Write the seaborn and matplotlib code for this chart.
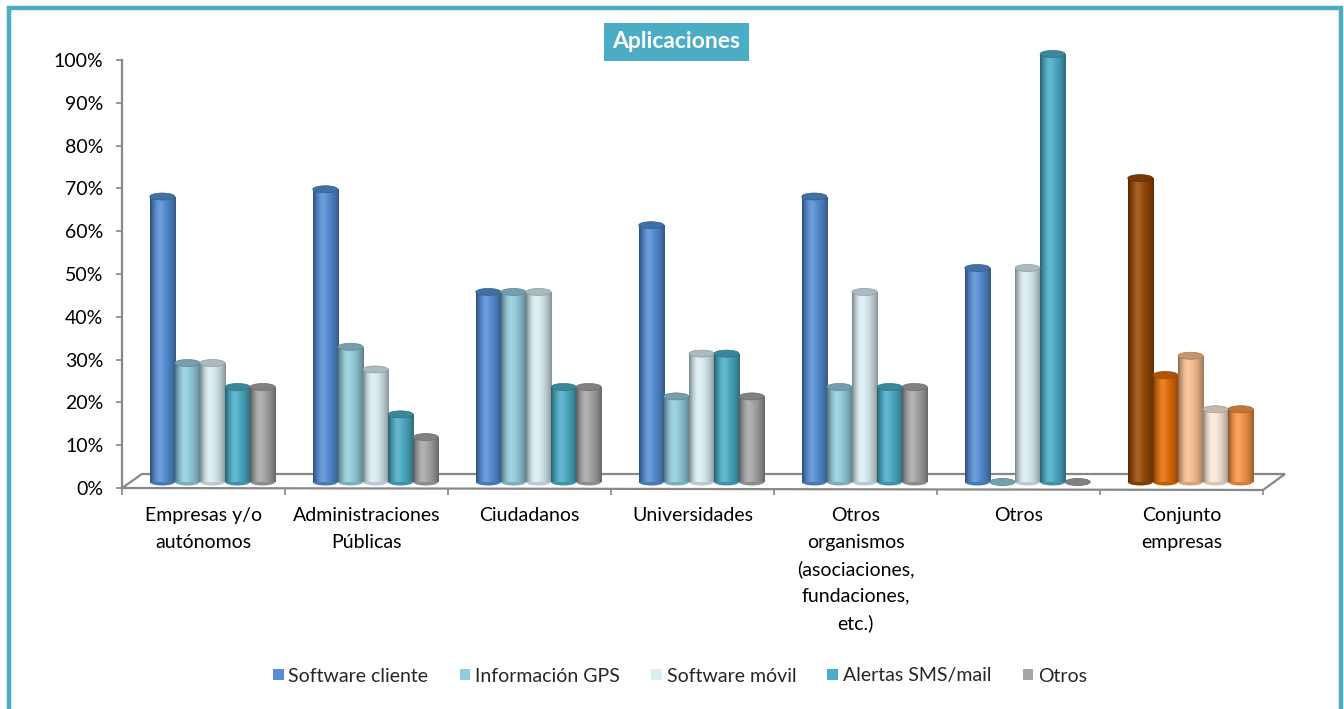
import numpy as np
import pandas as pd
import matplotlib
matplotlib.use("Agg")
import matplotlib.pyplot as plt
import matplotlib.transforms as mtransforms
from matplotlib.patches import Ellipse, Polygon, Patch
from matplotlib.lines import Line2D
from matplotlib.colors import to_rgb
import seaborn as sns

# ---- data ----
categories = ["Empresas y/o\nautónomos", "Administraciones\nPúblicas", "Ciudadanos",
              "Universidades",
              "Otros\norganismos\n(asociaciones,\nfundaciones,\netc.)",
              "Otros", "Conjunto\nempresas"]
series = ["Software cliente", "Información GPS", "Software móvil",
          "Alertas SMS/mail", "Otros"]
software_cliente = [0.667, 0.684, 0.444, 0.60, 0.667, 0.50, 0.71]
informacion_gps = [0.278, 0.316, 0.444, 0.20, 0.222, 0.00, 0.25]
software_movil = [0.278, 0.263, 0.444, 0.30, 0.444, 0.50, 0.295]
alertas_sms = [0.222, 0.158, 0.222, 0.30, 0.222, 1.00, 0.17]
otros = [0.222, 0.105, 0.222, 0.20, 0.222, 0.00, 0.17]
y_ticks = [0, 0.1, 0.2, 0.3, 0.4, 0.5, 0.6, 0.7, 0.8, 0.9, 1.0]

series_colors = ["#558ED5", "#93CDDD", "#DBEEF4", "#4BACC6", "#A6A6A6"]
total_colors = ["#984807", "#E46C0A", "#FAC090", "#FDEADA", "#F79646"]
accent = "#4BACC6"
axis_gray = "#888888"

values = [software_cliente, informacion_gps, software_movil, alertas_sms, otros]
df = pd.DataFrame([
    {"categoria": c, "serie": s, "valor": v}
    for s, vals in zip(series, values)
    for c, v in zip(categories, vals)
])

sns.set_theme(style="white")
plt.rcParams["font.family"] = ["Lato", "DejaVu Sans"]

W, H, DPI = 1344, 709, 100
fig = plt.figure(figsize=(W / DPI, H / DPI), dpi=DPI)
fig.patch.set_facecolor("white")

# plot area in pixels: x 122..1263, y 60..488
ax = fig.add_axes([122 / W, (H - 488) / H, (1263 - 122) / W, (488 - 60) / H])

sns.barplot(data=df, x="categoria", y="valor", hue="serie", order=categories,
            hue_order=series, palette=series_colors, width=0.77, gap=0,
            legend=False, ax=ax, saturation=1)

ax.set_xlim(-0.5, 6.5)
ax.set_ylim(0, 1)
ax.set_xlabel("")
ax.set_ylabel("")

# depth offset of the bars (pseudo 3D)
shifted = mtransforms.offset_copy(ax.transData, fig=fig, x=9, y=6, units="dots")
ell_h = 7 / 428.0
u = np.linspace(0, 1, 64)


def shading(base):
    base = np.array(to_rgb(base))
    dark = np.where(u > 0.38, 0.38 * ((u - 0.38) / 0.62) ** 2,
                    0.45 * ((0.38 - u) / 0.38) ** 2)
    light = 0.14 * np.exp(-((u - 0.38) / 0.16) ** 2)
    rgb = base[None, :] * (1 - dark[:, None]) + light[:, None] * (1 - base[None, :])
    return np.clip(rgb, 0, 1)[None, :, :]


def darker(c, f):
    return tuple(np.array(to_rgb(c)) * f)


for i, container in enumerate(ax.containers):
    for j, bar in enumerate(container):
        col = total_colors[i] if j == len(categories) - 1 else series_colors[i]
        bar.set_facecolor(col)
        bar.set_edgecolor("none")
        bar.set_transform(shifted)
        bar.set_clip_on(False)
        bar.set_zorder(3)
        x0, w, h = bar.get_x(), bar.get_width(), bar.get_height()
        xc = x0 + w / 2
        # rounded foot
        ax.add_patch(Ellipse((xc, 0), w, ell_h, facecolor=darker(col, 0.85),
                             edgecolor="none", transform=shifted, zorder=2.9,
                             clip_on=False))
        if h > 0:
            im = ax.imshow(shading(col), extent=[x0, x0 + w, 0, h],
                           aspect="auto", interpolation="bilinear",
                           transform=shifted, zorder=3.1)
            im.set_clip_path(bar)
        # top cap
        ax.add_patch(Ellipse((xc, h), w, ell_h, facecolor=darker(col, 0.78),
                             edgecolor=darker(col, 0.65), linewidth=0.5,
                             transform=shifted, zorder=3.2, clip_on=False))

ax.set_xlim(-0.5, 6.5)
ax.set_ylim(0, 1)

# floor of the plot area
px = 1 / 163.0
py = 1 / 428.0
floor = Polygon([(-0.5, 0), (6.5, -2 * py), (6.5 + 22 * px, 14 * py),
                 (-0.5 + 20 * px, 14 * py)], closed=True, facecolor="white",
                edgecolor=axis_gray, linewidth=1.6, zorder=1, clip_on=False)
ax.add_patch(floor)

# axes styling
for side in ["top", "right"]:
    ax.spines[side].set_visible(False)
ax.spines["left"].set_color(axis_gray)
ax.spines["left"].set_linewidth(1.6)
ax.spines["bottom"].set_visible(False)

ax.set_yticks(y_ticks)
ax.set_yticklabels([f"{int(round(t * 100))}%" for t in y_ticks])
ax.tick_params(axis="y", which="major", left=True, length=4.5, width=1.2,
               color=axis_gray, pad=9, labelsize=14, labelcolor="black")

ax.set_xticks(range(len(categories)))
ax.set_xticklabels(categories, linespacing=1.65)
ax.set_xticks(np.arange(-0.5, len(categories), 1.0), minor=True)
ax.tick_params(axis="x", which="major", length=0, pad=14, labelsize=14,
               labelcolor="black")
ax.tick_params(axis="x", which="minor", bottom=True, length=5, width=1.2,
               color=axis_gray)
for lab in ax.get_xticklabels():
    lab.set_verticalalignment("top")
ax.grid(False)
ax.set_facecolor("none")

# title box
fig.text(676.5 / W, 1 - 42 / H, "Aplicaciones", ha="center", va="center",
         fontsize=16.5, fontweight="bold", color="white",
         bbox=dict(boxstyle="square,pad=0.38", facecolor=accent, edgecolor="none"))

# legend
handles = [Patch(facecolor=c, edgecolor="none", label=s)
           for s, c in zip(series, series_colors)]
fig.legend(handles=handles, loc="center", bbox_to_anchor=(680 / W, 1 - 676 / H),
           ncol=5, frameon=False, fontsize=14, handlelength=0.55,
           handleheight=0.55, handletextpad=0.25, columnspacing=1.6)

# frame around the chart
fig.add_artist(Line2D([9 / W, 9 / W, 1341 / W, 1341 / W],
                      [0, 1 - 8 / H, 1 - 8 / H, 0], transform=fig.transFigure,
                      color=accent, linewidth=3.2, solid_joinstyle="miter"))

fig.savefig("out.png", dpi=DPI, facecolor="white")
